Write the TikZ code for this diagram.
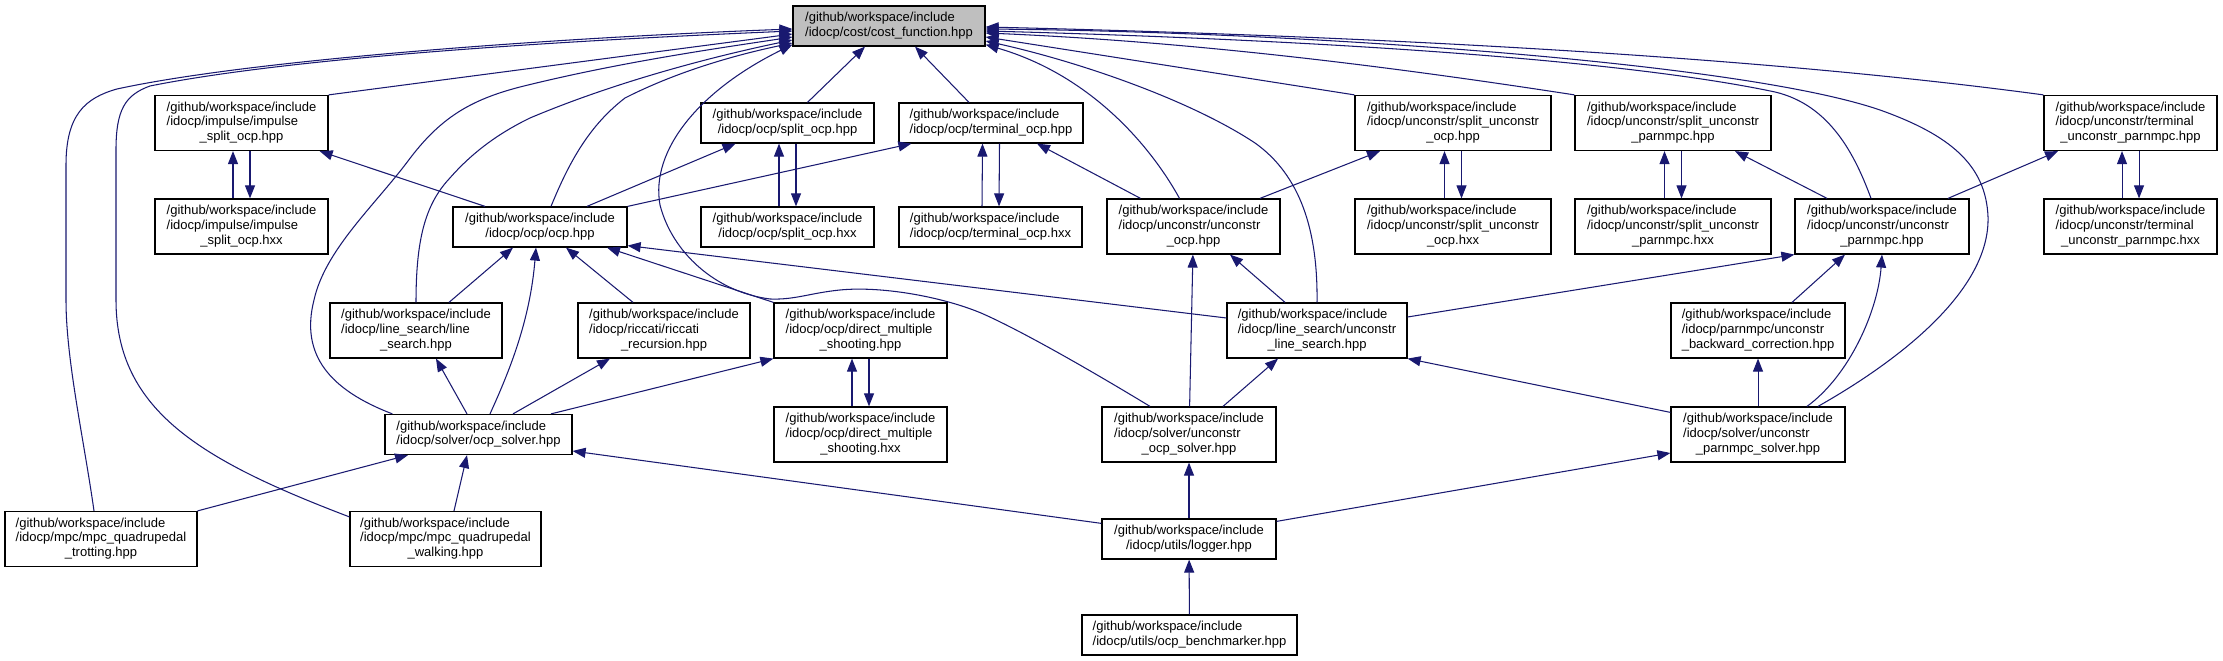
\documentclass[tikz,border=0pt]{standalone}
\usepackage{fontspec}
\setmainfont{Liberation Sans}
\usetikzlibrary{arrows.meta,calc}
\definecolor{midnight}{RGB}{25,25,112}
\definecolor{grey75}{RGB}{191,191,191}
\newcommand{\incpath}{/github/workspace/include}
% two lines: prefix left, last line centred
\newcommand{\twoln}[1]{\begin{tabular}{@{}l@{}}\incpath\\\multicolumn{1}{@{}c@{}}{#1}\end{tabular}}
% three lines
\newcommand{\threeln}[2]{\begin{tabular}{@{}l@{}}\incpath\\#1\\\multicolumn{1}{@{}c@{}}{#2}\end{tabular}}
\begin{document}
\begin{tikzpicture}[x=0.02cm, y=-0.02cm,
  incfile/.style={draw=black, line width=0.7pt, fill=white, inner sep=0pt,
    minimum height=0.8cm, font=\fontsize{7.4pt}{8.5pt}\selectfont},
  tallfile/.style={incfile, minimum height=1.1cm},
  rootfile/.style={incfile, fill=grey75},
  incedge/.style={draw=midnight, line width=0.6pt,
    -{Triangle[length=0.26cm,width=0.2cm]}}]
\useasboundingbox (0,0) rectangle (2223,661);

% row 1
\node[rootfile, minimum width=3.84cm] (cost) at (889,26) {\twoln{/idocp/cost/cost\_function.hpp}};
% row 2
\node[tallfile, minimum width=3.46cm] (isohpp) at (241.5,123) {\threeln{/idocp/impulse/impulse}{\_split\_ocp.hpp}};
\node[incfile, minimum width=3.46cm] (sohpp) at (787.5,123) {\twoln{/idocp/ocp/split\_ocp.hpp}};
\node[incfile, minimum width=3.68cm] (tohpp) at (991,123) {\twoln{/idocp/ocp/terminal\_ocp.hpp}};
\node[tallfile, minimum width=3.92cm] (suohpp) at (1453,123) {\threeln{/idocp/unconstr/split\_unconstr}{\_ocp.hpp}};
\node[tallfile, minimum width=3.92cm] (supnhpp) at (1673,123) {\threeln{/idocp/unconstr/split\_unconstr}{\_parnmpc.hpp}};
\node[tallfile, minimum width=3.46cm] (tupnhpp) at (2130.5,123) {\threeln{/idocp/unconstr/terminal}{\_unconstr\_parnmpc.hpp}};
% row 3
\node[tallfile, minimum width=3.46cm] (isohxx) at (241.5,226.5) {\threeln{/idocp/impulse/impulse}{\_split\_ocp.hxx}};
\node[incfile, minimum width=3.48cm] (ocp) at (540,227) {\twoln{/idocp/ocp/ocp.hpp}};
\node[incfile, minimum width=3.46cm] (sohxx) at (787.5,227) {\twoln{/idocp/ocp/split\_ocp.hxx}};
\node[incfile, minimum width=3.66cm] (tohxx) at (990.5,227) {\twoln{/idocp/ocp/terminal\_ocp.hxx}};
\node[tallfile, minimum width=3.46cm] (uocp) at (1193.5,226.5) {\threeln{/idocp/unconstr/unconstr}{\_ocp.hpp}};
\node[tallfile, minimum width=3.92cm] (suohxx) at (1453,226.5) {\threeln{/idocp/unconstr/split\_unconstr}{\_ocp.hxx}};
\node[tallfile, minimum width=3.92cm] (supnhxx) at (1673,226.5) {\threeln{/idocp/unconstr/split\_unconstr}{\_parnmpc.hxx}};
\node[tallfile, minimum width=3.48cm] (upn) at (1882,226.5) {\threeln{/idocp/unconstr/unconstr}{\_parnmpc.hpp}};
\node[tallfile, minimum width=3.46cm] (tupnhxx) at (2130.5,226.5) {\threeln{/idocp/unconstr/terminal}{\_unconstr\_parnmpc.hxx}};
% row 4
\node[tallfile, minimum width=3.44cm] (ls) at (416,330.5) {\threeln{/idocp/line\_search/line}{\_search.hpp}};
\node[tallfile, minimum width=3.44cm] (ric) at (664,330.5) {\threeln{/idocp/riccati/riccati}{\_recursion.hpp}};
\node[tallfile, minimum width=3.46cm] (dms) at (860.5,330.5) {\threeln{/idocp/ocp/direct\_multiple}{\_shooting.hpp}};
\node[tallfile, minimum width=3.60cm] (uls) at (1317,330.5) {\threeln{/idocp/line\_search/unconstr}{\_line\_search.hpp}};
\node[tallfile, minimum width=3.48cm] (bwc) at (1758,330.5) {\threeln{/idocp/parnmpc/unconstr}{\_backward\_correction.hpp}};
% row 5
\node[incfile, minimum width=3.74cm] (ocpsolver) at (478.5,434.5) {\twoln{/idocp/solver/ocp\_solver.hpp}};
\node[tallfile, minimum width=3.46cm] (dmshxx) at (860.5,434.5) {\threeln{/idocp/ocp/direct\_multiple}{\_shooting.hxx}};
\node[tallfile, minimum width=3.48cm] (uocpsolver) at (1189,434.5) {\threeln{/idocp/solver/unconstr}{\_ocp\_solver.hpp}};
\node[tallfile, minimum width=3.48cm] (upnsolver) at (1758,434.5) {\threeln{/idocp/solver/unconstr}{\_parnmpc\_solver.hpp}};
% row 6
\node[tallfile, minimum width=3.84cm] (trot) at (101,539) {\threeln{/idocp/mpc/mpc\_quadrupedal}{\_trotting.hpp}};
\node[tallfile, minimum width=3.82cm] (walk) at (445.5,539) {\threeln{/idocp/mpc/mpc\_quadrupedal}{\_walking.hpp}};
\node[incfile, minimum width=3.48cm] (logger) at (1189,539) {\twoln{/idocp/utils/logger.hpp}};
% row 7
\node[incfile, minimum width=4.30cm] (bench) at (1189.5,635) {\twoln{/idocp/utils/ocp\_benchmarker.hpp}};

% into cost_function, left side
\draw[incedge] ($(trot.north)+(-7,0)$) .. controls (84,440) and (66,360) .. (66,300) -- (66,165)
  .. controls (66,115) and (85,98) .. (117,89) .. controls (250,60) and (550,38) .. ($(cost.west)+(0,3)$);
\draw[incedge] ($(walk.north west)+(0,6)$) .. controls (200,460) and (116,410) .. (116,300) -- (116,150)
  .. controls (116,110) and (125,95) .. (150,86) .. controls (300,56) and (580,40) .. ($(cost.west)+(0,5)$);
\draw[incedge] (isohpp.north east) -- ($(cost.west)+(0,8)$);
\draw[incedge] ($(ocpsolver.north west)+(8,0)$) .. controls (330,390) and (300,355) .. (314,300)
  .. controls (325,250) and (375,205) .. (408,161) .. controls (440,118) and (470,100) .. (520,87)
  .. controls (620,62) and (720,48) .. ($(cost.west)+(0,11)$);
\draw[incedge] (ls.north) .. controls (416,240) and (425,205) .. (449,179)
  .. controls (470,155) and (495,135) .. (530,118) .. controls (620,80) and (720,55) .. ($(cost.west)+(0,14)$);
\draw[incedge] ($(ocp.north)+(11,0)$) .. controls (570,160) and (590,125) .. (625,98)
  .. controls (680,70) and (740,54) .. ($(cost.west)+(0,17)$);
\draw[incedge] ($(uocpsolver.north)+(-39,0)$) .. controls (1090,370) and (1020,330) .. (981,313)
  .. controls (940,296) and (880,286) .. (840,290) .. controls (810,293) and (795,300) .. (770,299)
  .. controls (715,292) and (672,252) .. (660,205) .. controls (650,150) and (700,90) .. ($(cost.south west)+(0,-2)$);
% into cost_function, below
\draw[incedge] ($(sohpp.north)+(20,0)$) -- ($(cost.south)+(-24,0)$);
\draw[incedge] ($(tohpp.north)+(-22,0)$) -- ($(cost.south)+(26,0)$);
% into cost_function, right side
\draw[incedge] (tupnhpp.north west) .. controls (1800,62) and (1450,38) .. ($(cost.east)+(0,1)$);
\draw[incedge] ($(upnsolver.north)+(60,0)$) .. controls (1900,360) and (1990,290) .. (1988,217)
  .. controls (1986,165) and (1950,135) .. (1880,110) .. controls (1740,62) and (1300,32) .. ($(cost.east)+(0,3)$);
\draw[incedge] ($(upn.north)+(-11,0)$) .. controls (1855,155) and (1830,105) .. (1775,92)
  .. controls (1600,55) and (1250,38) .. ($(cost.east)+(0,5)$);
\draw[incedge] (supnhpp.north west) .. controls (1400,68) and (1200,42) .. ($(cost.east)+(0,7)$);
\draw[incedge] (suohpp.north west) -- ($(cost.east)+(0,11)$);
\draw[incedge] (uls.north) .. controls (1318,230) and (1300,175) .. (1255,143)
  .. controls (1190,100) and (1080,62) .. ($(cost.east)+(0,15)$);
\draw[incedge] ($(uocp.north)+(-14,0)$) .. controls (1150,145) and (1090,75) .. ($(cost.south east)+(0,-2)$);

% hpp <-> hxx pairs
\foreach \hp/\hx in {isohpp/isohxx, sohpp/sohxx, tohpp/tohxx, dms/dmshxx,
    suohpp/suohxx, supnhpp/supnhxx, tupnhpp/tupnhxx} {
  \draw[incedge] ($(\hx.north)+(-8.5,0)$) -- ($(\hp.south)+(-8.5,0)$);
  \draw[incedge] ($(\hp.south)+(8.5,0)$) -- ($(\hx.north)+(8.5,0)$);
}

% ocp.hpp and its neighbours
\draw[incedge] ($(ocp.north)+(-55,0)$) -- ($(isohpp.south east)+(-9,0)$);
\draw[incedge] ($(ocp.north)+(47,0)$) -- ($(sohpp.south)+(-52,0)$);
\draw[incedge] (ocp.north east) -- ($(tohpp.south west)+(13,0)$);
\draw[incedge] ($(uocp.north)+(-53,0)$) -- ($(tohpp.south)+(46,0)$);
\draw[incedge] ($(ls.north)+(33,0)$) -- ($(ocp.south)+(-27,0)$);
\draw[incedge] ($(ocpsolver.north)+(11.5,0)$) .. controls (510,370) and (530,320) .. ($(ocp.south)+(-4,0)$);
\draw[incedge] ($(ric.north)+(-31,0)$) -- ($(ocp.south)+(26,0)$);
\draw[incedge] (dms.north west) -- ($(ocp.south)+(67,0)$);
\draw[incedge] ($(uls.west)+(0,-12.5)$) -- ($(ocp.south east)+(0,-2)$);

% ocp_solver
\draw[incedge] ($(ocpsolver.north)+(-11.5,0)$) -- ($(ls.south)+(20,0)$);
\draw[incedge] ($(ocpsolver.north)+(34.5,0)$) -- ($(ric.south)+(-54,0)$);
\draw[incedge] ($(ocpsolver.north)+(72.5,0)$) -- (dms.south west);
\draw[incedge] (trot.north east) -- ($(ocpsolver.south)+(-70.5,0)$);
\draw[incedge] ($(walk.north)+(8.5,0)$) -- ($(ocpsolver.south)+(-11.5,0)$);
\draw[incedge] ($(logger.north west)+(0,5)$) -- ($(ocpsolver.east)+(0,16.5)$);

% unconstr part
\draw[incedge] (uocpsolver) -- (uocp);
\draw[incedge] ($(uls.north)+(-32,0)$) -- ($(uocp.south)+(36.5,0)$);
\draw[incedge] ($(uocp.north)+(66.5,0)$) -- ($(suohpp.south)+(-73,0)$);
\draw[incedge] ($(uocpsolver.north)+(34,0)$) -- ($(uls.south)+(-39,0)$);
\draw[incedge] ($(upnsolver.north west)+(0,6)$) -- (uls.south east);
\draw[incedge] ($(uls.east)+(0,-13.5)$) -- (upn.south west);
\draw[incedge] ($(upn.north)+(-55,0)$) -- ($(supnhpp.south)+(62,0)$);
\draw[incedge] ($(upn.north)+(66,0)$) -- ($(tupnhpp.south)+(-72.5,0)$);
\draw[incedge] ($(bwc.north)+(34,0)$) -- ($(upn.south)+(-37,0)$);
\draw[incedge] ($(upnsolver.north)+(49,0)$) .. controls (1850,375) and (1878,310) .. (upn.south);
\draw[incedge] (upnsolver) -- (bwc);
\draw[incedge] ($(logger.north east)+(0,3)$) -- ($(upnsolver.west)+(0,18.5)$);
\draw[incedge] (logger) -- (uocpsolver);
\draw[incedge] (bench) -- (logger);
\end{tikzpicture}
\end{document}
